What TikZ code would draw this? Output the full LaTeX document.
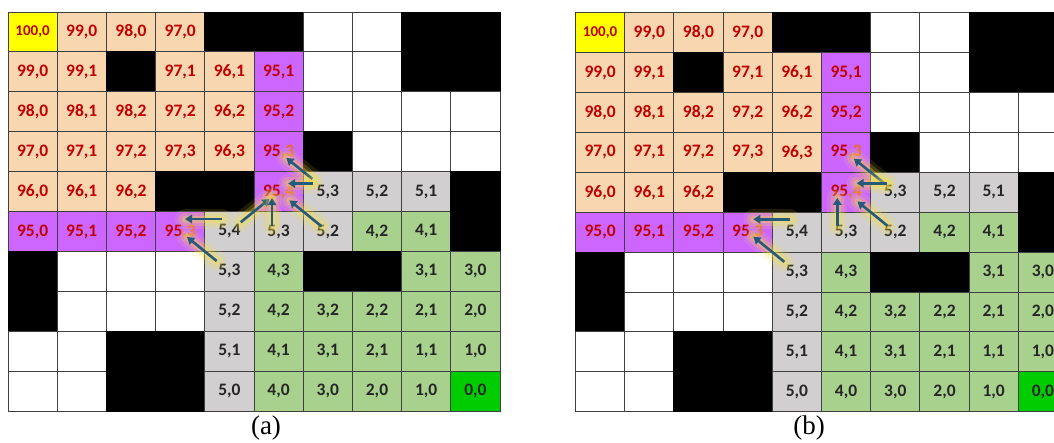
\documentclass[tikz,border=0pt]{standalone}
\usepackage{fontspec}
\setmainfont{Carlito}
\newfontfamily\capfont{Liberation Serif}
\usetikzlibrary{arrows.meta}

\definecolor{tancell}{RGB}{248,214,176}
\definecolor{pathcell}{RGB}{204,102,255}
\definecolor{greycell}{RGB}{209,207,207}
\definecolor{greencell}{RGB}{169,209,142}
\definecolor{goalcell}{RGB}{0,204,0}
\definecolor{startcell}{RGB}{255,255,0}
\definecolor{numred}{RGB}{192,0,0}
\definecolor{numdark}{RGB}{38,38,38}
\definecolor{numorange}{RGB}{232,110,40}
\definecolor{arrowblue}{RGB}{38,90,125}
\definecolor{gridline}{RGB}{64,64,64}
\definecolor{glowyellow}{RGB}{250,225,60}

\tikzset{
  tail/.code={\def\tailcol{#1}},
  cell/.style={rectangle,draw=gridline,line width=0.9pt,minimum width=49.2pt,minimum height=39.9pt,inner sep=0pt,tail=numdark,font=\bfseries\fontsize{17.5}{18}\selectfont},
  cellY/.style={cell,fill=startcell,text=numred,tail=numred,font=\bfseries\fontsize{15}{16}\selectfont},
  cellT/.style={cell,fill=tancell,text=numred,tail=numred},
  cellP/.style={cell,fill=pathcell,text=numred,tail=numred},
  cellQ/.style={cell,fill=pathcell,text=numred,tail=numorange},
  cellG/.style={cell,fill=greycell,text=numdark},
  cellL/.style={cell,fill=greencell,text=numdark},
  cellN/.style={cell,fill=goalcell,text=numdark},
  cellK/.style={cell,fill=black,draw=black},
  cellW/.style={cell,fill=white},
  move/.style={->,draw=arrowblue,line width=2.6pt,
    preaction={draw=glowyellow,line width=20pt,opacity=.12,line cap=round,arrows=-},
    preaction={draw=glowyellow,line width=13pt,opacity=.2,line cap=round,arrows=-},
    preaction={draw=glowyellow,line width=7pt,opacity=.3,line cap=round,arrows=-}},
}

\begin{document}
\begin{tikzpicture}[x=1pt,y=-1pt,>={Triangle[length=7pt,width=8.5pt]}]
\useasboundingbox (0,0) rectangle (1054,443);
\clip (0,0) rectangle (1054,443);
\foreach \g/\gx/\gy in {a/8/12, b/575.5/12.7}
  \foreach \row [count=\r from 0] in {
    {Y/100/0, T/99/0, T/98/0, T/97/0, K/-1/0, K/-1/0, W/-1/0, W/-1/0, K/-1/0, K/-1/0},
    {T/99/0, T/99/1, K/-1/0, T/97/1, T/96/1, P/95/1, W/-1/0, W/-1/0, K/-1/0, K/-1/0},
    {T/98/0, T/98/1, T/98/2, T/97/2, T/96/2, P/95/2, W/-1/0, W/-1/0, W/-1/0, W/-1/0},
    {T/97/0, T/97/1, T/97/2, T/97/3, T/96/3, Q/95/3, K/-1/0, W/-1/0, W/-1/0, W/-1/0},
    {T/96/0, T/96/1, T/96/2, K/-1/0, K/-1/0, Q/95/4, G/5/3, G/5/2, G/5/1, K/-1/0},
    {P/95/0, P/95/1, P/95/2, Q/95/3, G/5/4, G/5/3, G/5/2, L/4/2, L/4/1, K/-1/0},
    {K/-1/0, W/-1/0, W/-1/0, W/-1/0, G/5/3, L/4/3, K/-1/0, K/-1/0, L/3/1, L/3/0},
    {K/-1/0, W/-1/0, W/-1/0, W/-1/0, G/5/2, L/4/2, L/3/2, L/2/2, L/2/1, L/2/0},
    {W/-1/0, W/-1/0, K/-1/0, K/-1/0, G/5/1, L/4/1, L/3/1, L/2/1, L/1/1, L/1/0},
    {W/-1/0, W/-1/0, K/-1/0, K/-1/0, G/5/0, L/4/0, L/3/0, L/2/0, L/1/0, N/0/0}}
    \foreach \t/\p/\q [count=\c from 0] in \row
      \node[cell\t] (\g-\r-\c) at ({\gx+49.2*(\c+0.5)},{\gy+39.9*(\r+0.5)}) {\ifnum\p<0 \else\p\textcolor{\tailcol}{,\q}\fi};

\draw[move,shorten <=20pt,shorten >=10pt] (a-4-6.center) -- (a-3-5.center);
\draw[move,shorten <=15pt,shorten >=9.5pt] ([yshift=8pt]a-4-6.center) -- ([yshift=8pt]a-4-5.center);
\draw[move,shorten <=14.6pt,shorten >=11.7pt] (a-5-4.center) -- (a-4-5.center);
\draw[move,shorten <=5pt,shorten >=6.5pt] ([xshift=-6.6pt]a-5-5.center) -- ([xshift=-6.6pt]a-4-5.center);
\draw[move,shorten <=8pt,shorten >=14pt] (a-5-6.center) -- (a-4-5.center);
\draw[move,shorten <=7.4pt,shorten >=4.8pt] ([yshift=12.4pt]a-5-4.center) -- ([yshift=12.4pt]a-5-3.center);
\draw[move,shorten <=16.4pt,shorten >=8.8pt] (a-6-4.center) -- (a-5-3.center);

\draw[move,shorten <=13.7pt,shorten >=10pt] (b-4-6.center) -- (b-3-5.center);
\draw[move,shorten <=8.6pt,shorten >=10.6pt] ([yshift=9pt]b-4-6.center) -- ([yshift=9pt]b-4-5.center);
\draw[move,shorten <=6.2pt,shorten >=5.7pt] ([xshift=-8.8pt]b-5-5.center) -- ([xshift=-8.8pt]b-4-5.center);
\draw[move,shorten <=10.2pt,shorten >=14.6pt] (b-5-6.center) -- (b-4-5.center);
\draw[move,shorten <=6.9pt,shorten >=5.6pt] ([yshift=12.9pt]b-5-4.center) -- ([yshift=12.9pt]b-5-3.center);
\draw[move,shorten <=16.1pt,shorten >=7.2pt] (b-6-4.center) -- (b-5-3.center);

\node[font=\capfont\fontsize{27}{30}\selectfont] (capa) at (266,428.5) {(a)};
\node[font=\capfont\fontsize{27}{30}\selectfont] (capb) at (809,428.5) {(b)};
\end{tikzpicture}
\end{document}
